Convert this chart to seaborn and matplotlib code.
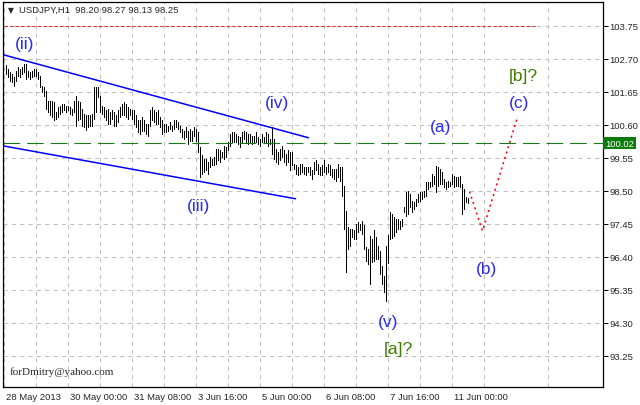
import numpy as np
import pandas as pd
import seaborn as sns
import matplotlib.pyplot as plt
import matplotlib.transforms as mtrans
from matplotlib.ticker import FixedLocator

# USDJPY H1 bars (high / low), one per hour
highs = [
    102.49, 102.38, 102.28, 102.22, 102.12, 102.33, 102.44, 102.38, 102.44, 102.54,
    102.54, 102.33, 102.28, 102.33, 102.38, 102.38, 102.28, 102.17, 101.85, 101.80,
    101.69, 101.37, 101.37, 101.37, 101.32, 101.00, 101.16, 101.21, 101.27, 101.27,
    101.21, 101.21, 101.18, 101.11, 101.37, 101.53, 101.37, 101.32, 101.11, 100.95,
    100.90, 100.90, 100.90, 100.95, 101.80, 101.80, 101.82, 101.53, 101.21, 101.16,
    101.06, 101.11, 101.00, 101.06, 101.00, 100.90, 101.06, 101.16, 101.27, 101.32,
    101.27, 101.16, 101.11, 101.06, 101.06, 100.90, 100.74, 100.74, 100.85, 100.74,
    100.63, 100.63, 101.06, 101.16, 101.06, 101.00, 101.06, 100.85, 100.74, 100.63,
    100.63, 100.58, 100.69, 100.58, 100.74, 100.74, 100.69, 100.58, 100.47, 100.42,
    100.53, 100.42, 100.47, 100.42, 100.53, 100.47, 100.37, 99.89, 99.63, 99.52,
    99.52, 99.41, 99.57, 99.52, 99.57, 99.84, 99.84, 99.79, 99.73, 99.94,
    99.89, 100.05, 100.31, 100.37, 100.37, 100.31, 100.26, 100.21, 100.37, 100.42,
    100.37, 100.31, 100.31, 100.26, 100.26, 100.37, 100.21, 100.15, 100.31, 100.21,
    100.37, 100.31, 100.15, 100.53, 100.15, 99.84, 99.73, 99.84, 99.94, 99.79,
    99.68, 99.79, 99.73, 99.73, 99.36, 99.31, 99.25, 99.36, 99.36, 99.25,
    99.25, 99.25, 99.25, 99.15, 99.41, 99.47, 99.36, 99.25, 99.31, 99.47,
    99.25, 99.36, 99.31, 99.20, 99.20, 99.20, 99.36, 99.25, 99.25, 98.67,
    97.87, 97.34, 97.29, 97.29, 97.24, 97.45, 97.50, 97.45, 97.55, 97.40,
    96.71, 96.65, 97.08, 96.97, 97.24, 97.02, 96.76, 96.60, 96.12, 95.80,
    96.76, 97.10, 97.83, 97.77, 97.67, 97.61, 97.61, 97.55, 97.61, 97.99,
    98.47, 98.50, 98.40, 98.18, 98.15, 98.25, 98.40, 98.47, 98.47, 98.50,
    98.79, 98.79, 98.79, 99.04, 98.98, 99.30, 99.26, 99.20, 99.10, 98.88,
    98.79, 98.82, 98.79, 99.04, 98.98, 98.95, 98.95, 98.98, 98.72, 98.56,
    98.31, 98.27,
]
lows = [
    102.22, 102.12, 102.01, 101.96, 101.85, 102.01, 102.17, 102.12, 102.22, 102.28,
    102.06, 102.12, 102.06, 102.12, 102.17, 102.17, 102.06, 101.80, 101.64, 101.53,
    101.11, 101.00, 100.90, 100.85, 100.74, 100.79, 100.85, 100.95, 101.00, 101.06,
    101.00, 101.06, 100.95, 100.90, 101.00, 100.58, 100.74, 100.79, 100.58, 100.53,
    100.44, 100.53, 100.58, 100.58, 100.79, 101.00, 101.48, 101.00, 100.95, 100.85,
    100.74, 100.63, 100.63, 100.79, 100.58, 100.58, 100.69, 100.85, 100.90, 100.90,
    100.85, 100.79, 100.90, 100.79, 100.63, 100.53, 100.37, 100.31, 100.42, 100.42,
    100.31, 100.26, 100.58, 100.74, 100.69, 100.63, 100.63, 100.53, 100.31, 100.37,
    100.37, 100.42, 100.47, 100.42, 100.47, 100.53, 100.47, 100.37, 100.21, 100.15,
    100.21, 100.00, 100.10, 100.10, 100.26, 100.10, 99.74, 98.94, 99.04, 99.10,
    99.15, 99.04, 99.25, 99.31, 99.31, 99.36, 99.47, 99.41, 99.57, 99.52,
    99.57, 99.79, 99.94, 100.05, 100.05, 100.05, 99.99, 99.89, 100.05, 100.15,
    100.05, 99.99, 100.05, 99.99, 100.05, 100.05, 99.99, 99.94, 100.05, 100.05,
    100.05, 99.94, 99.99, 99.68, 99.52, 99.41, 99.36, 99.47, 99.57, 99.41,
    99.31, 99.41, 99.15, 99.31, 99.20, 99.04, 98.99, 99.04, 99.10, 99.04,
    98.99, 99.10, 98.99, 98.88, 99.04, 99.15, 99.04, 98.99, 98.99, 99.10,
    99.04, 99.10, 98.99, 98.94, 98.88, 98.83, 98.94, 98.83, 98.35, 97.29,
    95.91, 96.65, 96.76, 97.02, 96.97, 96.97, 97.18, 97.24, 97.13, 96.65,
    96.28, 96.18, 95.54, 96.23, 96.28, 96.34, 96.34, 95.86, 95.54, 95.28,
    95.01, 96.20, 96.97, 97.00, 97.07, 97.20, 97.29, 97.29, 97.39, 97.83,
    97.71, 97.77, 97.99, 97.83, 97.93, 98.02, 98.15, 98.18, 98.25, 98.31,
    98.34, 98.56, 98.63, 98.66, 98.72, 98.47, 98.66, 98.72, 98.72, 98.63,
    98.56, 98.63, 98.66, 98.72, 98.63, 98.66, 98.66, 98.63, 97.77, 97.93,
    98.15, 98.13,
]

price_ticks = [93.25, 94.30, 95.35, 96.40, 97.45, 98.50, 99.55, 100.60, 101.65, 102.70, 103.75]
time_labels = ["28 May 2013", "30 May 00:00", "31 May 08:00", "3 Jun 16:00",
               "5 Jun 00:00", "6 Jun 08:00", "7 Jun 16:00", "11 Jun 00:00"]
time_label_bars = [-1, 31, 63, 95, 127, 159, 191, 223]

# drawn objects
upper_channel_bars = [-1, 151.5]
upper_channel_prices = [102.83, 100.19]
lower_channel_bars = [-1, 145]
lower_channel_prices = [99.93, 98.25]
forecast_bars = [232, 238.5, 256]
forecast_prices = [98.48, 97.23, 100.85]
top_level = 103.75
top_level_end = 265
level = 100.02

wave_labels = ["(ii)", "(iii)", "(iv)", "(v)", "(a)", "(b)", "(c)"]
wave_bars = [9.5, 96.5, 135.5, 191.5, 217.5, 240.5, 257]
wave_prices = [103.18, 98.05, 101.30, 94.33, 100.54, 96.02, 101.30]
degree_labels = ["[a]?", "[b]?"]
degree_bars = [196.5, 259]
degree_prices = [93.47, 102.16]

sns.set_style("white")
plt.rcParams["font.family"] = ["Liberation Sans", "DejaVu Sans"]
plt.rcParams["lines.scale_dashes"] = False

fig = plt.figure(figsize=(6.4, 4.06), dpi=100)
ax = fig.add_axes([3 / 640, 18 / 406, 600 / 640, 385 / 406])

idx = np.arange(len(highs))
bars = pd.DataFrame({
    "bar": np.repeat(idx, 2),
    "price": np.column_stack([lows, highs]).ravel(),
})
sns.lineplot(data=bars, x="bar", y="price", units="bar", estimator=None,
             sort=False, color="black", lw=0.55, antialiased=False, ax=ax)

# channel
sns.lineplot(x=upper_channel_bars, y=upper_channel_prices, color="#0000ff", lw=1.1, ax=ax)
sns.lineplot(x=lower_channel_bars, y=lower_channel_prices, color="#0000ff", lw=1.1, ax=ax)
# forecast path
ax.plot(forecast_bars, forecast_prices, color="#ff0000", lw=1.1, linestyle=(0, (1.5, 2.5)))
# levels
ax.hlines(top_level, -1, top_level_end, color="#e03030", lw=0.75, linestyle=(0, (2.5, 1.5)))
ax.axhline(level, color="#1a7a1a", lw=0.8, linestyle=(0, (12, 5)))

for t, x, y in zip(wave_labels, wave_bars, wave_prices):
    ax.text(x, y, t, color="#2a2af0", fontsize=12.5, ha="center", va="center")
for t, x, y in zip(degree_labels, degree_bars, degree_prices):
    ax.text(x, y, t, color="#3d7d00", fontsize=12.5, ha="center", va="center")

ax.set_xlim(-1.25, 298.75)
ax.set_ylim(92.26, 104.51)
ax.set_xlabel("")
ax.set_ylabel("")

# axes ticks & grid like the terminal
ax.yaxis.tick_right()
ax.set_yticks(price_ticks)
ax.set_yticklabels([f"{p:.2f}" for p in price_ticks])
ax.xaxis.set_major_locator(FixedLocator(time_label_bars))
ax.xaxis.set_minor_locator(FixedLocator([b + 16 for b in range(-1, 290, 32)]))
ax.set_xticklabels(time_labels)
ax.tick_params(axis="x", which="major", direction="out", length=3.6, width=0.72,
               pad=0.3, labelsize=6.8, color="black")
ax.tick_params(axis="x", which="minor", length=0)
ax.tick_params(axis="y", direction="out", length=3.6, width=0.72, pad=1,
               labelsize=6.8, color="black", right=True, left=False)
ax.grid(True, which="both", axis="x", color="#c0c0c0", lw=0.75, linestyle=(0, (3, 3)))
ax.grid(True, which="major", axis="y", color="#c0c0c0", lw=0.75, linestyle=(0, (3, 3)))
ax.set_axisbelow(True)
for s in ax.spines.values():
    s.set_color("black")
    s.set_linewidth(0.9)

offset = mtrans.ScaledTranslation(2 / 100, 0, fig.dpi_scale_trans)
for lab in ax.get_xticklabels():
    lab.set_horizontalalignment("left")
    lab.set_transform(lab.get_transform() + offset)

# current level tag on price scale
ax.text(1.0035, level, f"{level:.2f}", transform=ax.get_yaxis_transform(),
        color="white", fontsize=6.8, ha="left", va="center",
        bbox=dict(facecolor="#0a7a0a", edgecolor="none", pad=1.2))

fig.text(8 / 640, 1 - 11 / 406, "\u25bc", fontsize=5.5, va="center",
         family=["DejaVu Sans"])
fig.text(19 / 640, 1 - 10 / 406, "USDJPY,H1  98.20 98.27 98.13 98.25",
         fontsize=6.8, va="center")
fig.text(10 / 640, 1 - 372 / 406, "forDmitry@yahoo.com", fontsize=8,
         family=["Liberation Serif"], va="center")

fig.savefig("out.png", dpi=100)
